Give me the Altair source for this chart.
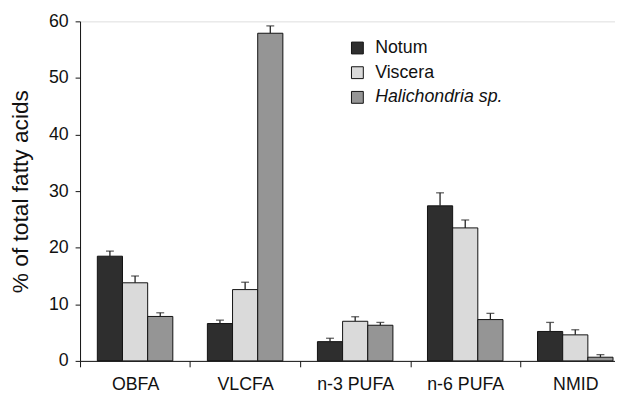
import altair as alt
import pandas as pd

categories = ["OBFA", "VLCFA", "n-3 PUFA", "n-6 PUFA", "NMID"]
series = ["Notum", "Viscera", "Halichondria sp."]
notum = [18.5, 6.6, 3.4, 27.4, 5.2]
notum_err = [0.9, 0.6, 0.6, 2.3, 1.6]
viscera = [13.8, 12.6, 7.0, 23.5, 4.6]
viscera_err = [1.2, 1.3, 0.8, 1.4, 0.9]
hali = [7.85, 57.9, 6.3, 7.3, 0.65]
hali_err = [0.65, 1.3, 0.5, 1.1, 0.45]
colors = ["#2e2e2e", "#dadada", "#959595"]
y_ticks = [0, 10, 20, 30, 40, 50, 60]

rows = []
for s, vals, errs in zip(series, [notum, viscera, hali], [notum_err, viscera_err, hali_err]):
    for c, v, e in zip(categories, vals, errs):
        rows.append({"category": c, "series": s, "value": v, "upper": v + e})
df = pd.DataFrame(rows)
leg = pd.DataFrame({"series": series})

FONT = "Liberation Sans"
STEP = 111.5

xenc = alt.X(
    "category:N",
    sort=categories,
    scale=alt.Scale(domain=categories, range=[0, STEP * 5], paddingInner=0.314, paddingOuter=0.157),
    axis=alt.Axis(
        title=None, labelFont=FONT, labelFontSize=18, labelColor="#111111", labelAngle=0,
        tickOffset=-STEP / 2, labelOffset=STEP / 2, tickSize=6, tickColor="#111111",
        domainColor="#111111", labelPadding=9, labelFlush=False,
    ),
)
xoff = alt.XOffset("series:N", sort=series, scale=alt.Scale(domain=series))
yscale = alt.Scale(domain=[0, 60], nice=False)
color = alt.Color("series:N", scale=alt.Scale(domain=series, range=colors), legend=None)

bars = alt.Chart(df).mark_bar(stroke="#111111", strokeWidth=1).encode(
    x=xenc, xOffset=xoff,
    y=alt.Y("value:Q", scale=yscale, axis=alt.Axis(
        title="% of total fatty acids", titleFont=FONT, titleFontSize=23, titleFontWeight="normal",
        titleColor="#111111", titlePadding=16, values=y_ticks, labelFont=FONT, labelFontSize=18,
        labelColor="#111111", tickSize=5, tickColor="#111111", domainColor="#111111",
        labelPadding=7, grid=False)),
    fill=color,
)
rules = alt.Chart(df).mark_rule(color="#222222", strokeWidth=1.3).encode(
    x=xenc, xOffset=xoff,
    y=alt.Y("value:Q", scale=yscale, axis=None), y2="upper:Q",
)
caps = alt.Chart(df).mark_tick(color="#222222", thickness=1.3, size=8).encode(
    x=xenc, xOffset=xoff,
    y=alt.Y("upper:Q", scale=yscale, axis=None),
)

legscale = alt.Scale(domain=series, range=[27, 77], type="point", padding=0)
leg_sq = alt.Chart(leg).mark_square(size=144, stroke="#111111", strokeWidth=1, opacity=1).encode(
    x=alt.value(281),
    y=alt.Y("series:N", scale=legscale, axis=None),
    fill=color,
)
leg_txt = alt.Chart(leg).mark_text(align="left", baseline="middle", font=FONT, fontSize=18, color="#111111").encode(
    x=alt.value(299),
    y=alt.Y("series:N", scale=legscale, axis=None),
    text="series:N",
).transform_filter(alt.datum.series != "Halichondria sp.")
leg_txt_it = alt.Chart(leg).mark_text(align="left", baseline="middle", font=FONT, fontSize=18,
                                      fontStyle="italic", color="#111111").encode(
    x=alt.value(299),
    y=alt.Y("series:N", scale=legscale, axis=None),
    text="series:N",
).transform_filter(alt.datum.series == "Halichondria sp.")

chart = alt.layer(bars, rules, caps, leg_sq, leg_txt, leg_txt_it).resolve_scale(
    y="independent"
).properties(
    width=542, height=344,
    autosize=alt.AutoSizeParams(type="none"),
    padding={"left": 73, "top": 11, "right": 0, "bottom": 30},
).configure_view(stroke=None).configure(background="white")

chart.save("out.html", embed_options={"renderer": "svg", "actions": False})
